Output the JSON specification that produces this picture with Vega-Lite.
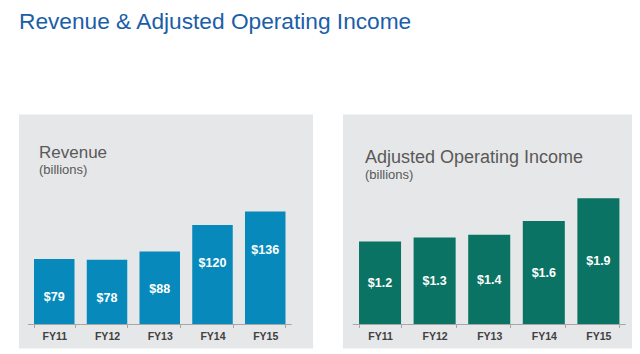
{
  "$schema": "https://vega.github.io/schema/vega-lite/v6.json",
  "background": "white",
  "padding": {"left": 19, "top": 10.5, "right": 0, "bottom": 0},
  "title": {
    "text": "Revenue & Adjusted Operating Income",
    "anchor": "start",
    "frame": "group",
    "fontSize": 22.7,
    "font": "Liberation Sans",
    "fontWeight": "normal",
    "color": "#1b5ea8",
    "offset": 81
  },
  "datasets": {
    "revenue": [
      {"year": "FY11", "value": 79, "label": "$79"},
      {"year": "FY12", "value": 78, "label": "$78"},
      {"year": "FY13", "value": 88, "label": "$88"},
      {"year": "FY14", "value": 120, "label": "$120"},
      {"year": "FY15", "value": 136, "label": "$136"}
    ],
    "aoi": [
      {"year": "FY11", "value": 1.25, "label": "$1.2"},
      {"year": "FY12", "value": 1.31, "label": "$1.3"},
      {"year": "FY13", "value": 1.35, "label": "$1.4"},
      {"year": "FY14", "value": 1.56, "label": "$1.6"},
      {"year": "FY15", "value": 1.9, "label": "$1.9"}
    ]
  },
  "spacing": 30,
  "hconcat": [
    {
      "width": 294,
      "height": 234,
      "data": {"name": "revenue"},
      "title": {
        "text": "Revenue",
        "subtitle": "(billions)",
        "anchor": "start",
        "frame": "group",
        "orient": "top",
        "offset": -63,
        "dx": 20,
        "fontSize": 17,
        "fontWeight": "normal",
        "color": "#595959",
        "subtitleFontSize": 13,
        "subtitleColor": "#595959",
        "subtitlePadding": 1.6
      },
      "encoding": {
        "x": {
          "field": "year",
          "type": "nominal",
          "sort": null,
          "scale": {"paddingInner": 0.232, "paddingOuter": 0.403, "align": 0.353},
          "axis": {
            "title": null,
            "offset": -24,
            "domain": false,
            "ticks": true,
            "tickBand": "extent",
            "tickSize": 3,
            "tickColor": "#a6a6a6",
            "labelAngle": 0,
            "labelFontSize": 10.5,
            "labelFontWeight": "bold",
            "labelColor": "#404040",
            "labelPadding": 4
          }
        }
      },
      "layer": [
        {
          "mark": {"type": "bar", "color": "#078abb"},
          "encoding": {
            "y": {"field": "value", "type": "quantitative", "scale": {"domain": [-28.9, 253], "nice": false, "zero": false}, "axis": null},
            "y2": {"datum": 0}
          }
        },
        {
          "mark": {"type": "rule", "color": "#a6a6a6", "strokeWidth": 1},
          "encoding": {
            "x": {"field": "year", "type": "nominal", "sort": null, "bandPosition": -0.151},
            "x2": {"field": "year", "bandPosition": 1.151},
            "y": {"datum": 0, "type": "quantitative", "axis": null}
          }
        },
        {
          "mark": {"type": "text", "color": "white", "fontWeight": "bold", "fontSize": 12.5, "baseline": "middle", "dy": 38},
          "encoding": {
            "y": {"field": "value", "type": "quantitative", "axis": null},
            "text": {"field": "label"}
          }
        }
      ]
    },
    {
      "width": 289,
      "height": 234,
      "data": {"name": "aoi"},
      "title": {
        "text": "Adjusted Operating Income",
        "subtitle": "(billions)",
        "anchor": "start",
        "frame": "group",
        "orient": "top",
        "offset": -67.7,
        "dx": 22,
        "fontSize": 18,
        "fontWeight": "normal",
        "color": "#595959",
        "subtitleFontSize": 13,
        "subtitleColor": "#595959",
        "subtitlePadding": 2
      },
      "encoding": {
        "x": {
          "field": "year",
          "type": "nominal",
          "sort": null,
          "scale": {"paddingInner": 0.23, "paddingOuter": 0.262, "align": 0.56},
          "axis": {
            "title": null,
            "offset": -24,
            "domain": false,
            "ticks": true,
            "tickBand": "extent",
            "tickSize": 3,
            "tickColor": "#a6a6a6",
            "labelAngle": 0,
            "labelFontSize": 10.5,
            "labelFontWeight": "bold",
            "labelColor": "#404040",
            "labelPadding": 4
          }
        }
      },
      "layer": [
        {
          "mark": {"type": "bar", "color": "#0a7364"},
          "encoding": {
            "y": {"field": "value", "type": "quantitative", "scale": {"domain": [-0.3614, 3.163], "nice": false, "zero": false}, "axis": null},
            "y2": {"datum": 0}
          }
        },
        {
          "mark": {"type": "rule", "color": "#a6a6a6", "strokeWidth": 1},
          "encoding": {
            "x": {"field": "year", "type": "nominal", "sort": null, "bandPosition": -0.15},
            "x2": {"field": "year", "bandPosition": 1.15},
            "y": {"datum": 0, "type": "quantitative", "axis": null}
          }
        },
        {
          "transform": [{"calculate": "datum.value / 2", "as": "mid"}],
          "mark": {"type": "text", "color": "white", "fontWeight": "bold", "fontSize": 12.5, "baseline": "middle"},
          "encoding": {
            "y": {"field": "mid", "type": "quantitative", "axis": null},
            "text": {"field": "label"}
          }
        }
      ]
    }
  ],
  "config": {
    "font": "Liberation Sans",
    "view": {"fill": "#e6e7e8", "stroke": null}
  }
}
